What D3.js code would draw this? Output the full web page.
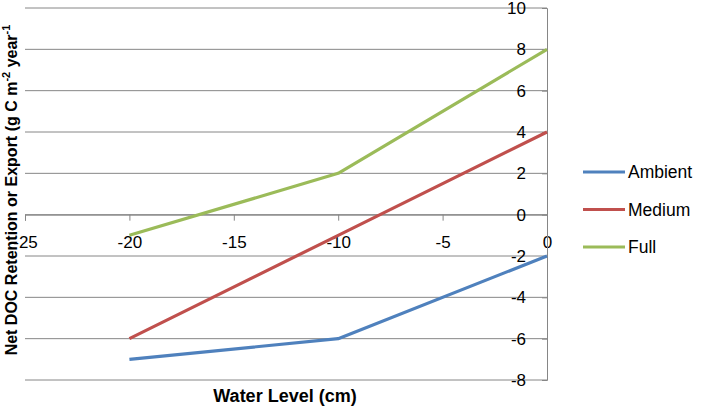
<!DOCTYPE html>
<html>
<head>
<meta charset="utf-8">
<script src="https://cdn.jsdelivr.net/npm/d3@7"></script>
<style>
  body { margin: 0; background: #fff; }
  text { font-family: "Liberation Sans", Arial, sans-serif; fill: #000; }
</style>
</head>
<body>
<div id="chart"></div>
<script>
// Water level vs net DOC retention, three treatments
const waterLevels = [-20, -10, 0];
const ambient = [-7, -6, -2];
const medium = [-6, -1, 4];
const full = [-1, 2, 8];
const seriesNames = ['Ambient', 'Medium', 'Full'];
const seriesColors = ['#4F81BD', '#C0504D', '#9BBB59'];
const xTicks = [-25, -20, -15, -10, -5, 0];
const yTicks = [-8, -6, -4, -2, 0, 2, 4, 6, 8, 10];

const totalWidth = 701, totalHeight = 407;
const plotLeft = 25, plotRight = 547, plotTop = 8, plotBottom = 380;

const svg = d3.select('#chart').append('svg')
    .attr('width', totalWidth)
    .attr('height', totalHeight);

const x = d3.scaleLinear().domain([-25, 0]).range([plotLeft, plotRight]);
const y = d3.scaleLinear().domain([-8, 10]).range([plotBottom, plotTop]);

// grid lines
svg.append('g')
    .selectAll('line')
    .data(yTicks)
    .enter()
    .append('line')
    .attr('x1', plotLeft)
    .attr('x2', plotRight)
    .attr('y1', d => y(d))
    .attr('y2', d => y(d))
    .attr('stroke', '#868686')
    .attr('stroke-width', 1);

// plain hyphen minus like the spreadsheet
const fmt = d => String(d);

// x axis at y = 0
const xAxis = svg.append('g')
    .attr('transform', `translate(0,${y(0)})`)
    .call(d3.axisBottom(x).tickValues(xTicks).tickSize(6).tickPadding(15).tickFormat(fmt));
xAxis.select('.domain').attr('stroke', '#868686');
xAxis.selectAll('.tick line').attr('stroke', '#868686');
xAxis.selectAll('text').style('font-size', '17px').style('font-family', '"Liberation Sans", Arial, sans-serif');

// y axis at x = 0
const yAxis = svg.append('g')
    .attr('transform', `translate(${x(0)},0)`)
    .call(d3.axisLeft(y).tickValues(yTicks).tickSize(5).tickPadding(16).tickFormat(fmt));
yAxis.select('.domain').attr('stroke', '#868686');
yAxis.selectAll('.tick line').attr('stroke', '#868686');
yAxis.selectAll('text').style('font-size', '17px').style('font-family', '"Liberation Sans", Arial, sans-serif');

// series lines
const seriesData = [ambient, medium, full];
const line = d3.line()
    .x((d, i) => x(waterLevels[i]))
    .y(d => y(d));

svg.append('g')
    .selectAll('path')
    .data(seriesData)
    .enter()
    .append('path')
    .attr('d', d => line(d))
    .attr('fill', 'none')
    .attr('stroke', (d, i) => seriesColors[i])
    .attr('stroke-width', 3.2)
    .attr('stroke-linejoin', 'round');

// axis titles
svg.append('text')
    .attr('x', 285)
    .attr('y', 402)
    .attr('text-anchor', 'middle')
    .style('font-size', '18px')
    .style('font-weight', 'bold')
    .text('Water Level (cm)');

const yTitle = svg.append('text')
    .attr('transform', 'translate(17,190) rotate(-90)')
    .attr('text-anchor', 'middle')
    .style('font-size', '16px')
    .style('font-weight', 'bold');
yTitle.append('tspan').text('Net DOC Retention or Export (g C m');
yTitle.append('tspan').attr('dy', -7).style('font-size', '11px').text('-2');
yTitle.append('tspan').attr('dy', 7).text(' year');
yTitle.append('tspan').attr('dy', -7).style('font-size', '11px').text('-1');

// legend
const legend = svg.append('g')
    .attr('transform', 'translate(583,172)');

const legendItems = legend.selectAll('.legend-item')
    .data(seriesNames)
    .enter()
    .append('g')
    .attr('class', 'legend-item')
    .attr('transform', (d, i) => `translate(0,${i * 37.5})`);

legendItems.append('line')
    .attr('x1', 0)
    .attr('x2', 42)
    .attr('stroke', (d, i) => seriesColors[i])
    .attr('stroke-width', 3.2);

legendItems.append('text')
    .attr('x', 45)
    .attr('y', 0)
    .attr('dy', '.35em')
    .style('font-size', '17.5px')
    .text(d => d);
</script>
</body>
</html>
